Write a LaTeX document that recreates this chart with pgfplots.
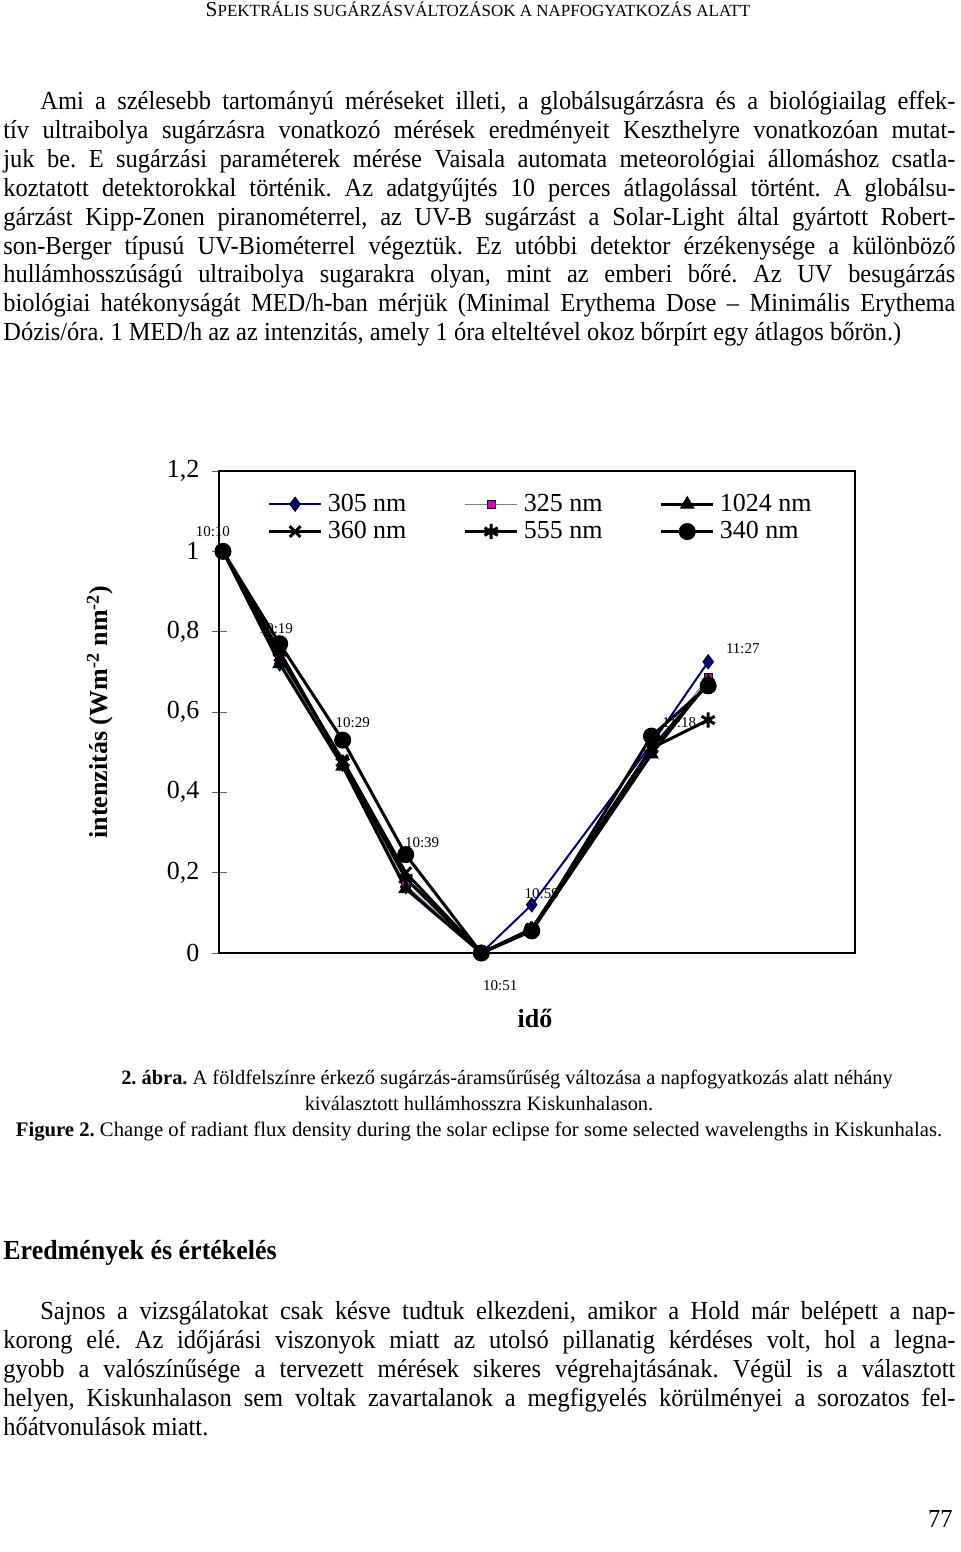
\documentclass[border=0pt]{standalone}
\usepackage{pgfplots}
\pgfplotsset{compat=1.18}
\usepackage{fontspec}
\setmainfont{Liberation Serif}
\newfontfamily\bodyfont{Liberation Serif}[FakeStretch=0.94,Ligatures=TeX]
\definecolor{navyc}{RGB}{0,0,128}
\definecolor{magc}{RGB}{220,0,200}
\newcommand\jl[4]{\node[anchor=base west,inner sep=0pt] at (#1,#2) {\hbox to #3{#4}};}
\newcommand\nl[3]{\node[anchor=base west,inner sep=0pt] at (#1,#2) {#3};}
\frenchspacing
\begin{document}
\frenchspacing
\begin{tikzpicture}
\path[use as bounding box] (0,0) rectangle (480pt,-776pt);
\begin{axis}[
  at={(109.5pt,-476.5pt)}, anchor=south west,
  scale only axis, width=318pt, height=241pt,
  xmin=-0.63, xmax=100.3, ymin=0, ymax=1.2,
  xtick=\empty,
  ytick={0,0.2,0.4,0.6,0.8,1,1.2},
  ytick pos=left,
  tick align=center,
  major tick length=7.5pt,
  tick style={line width=0.4pt, color=black!60},
  axis line style={line width=1.3pt},
  yticklabel style={font=\fontsize{13}{13}\selectfont, anchor=east, xshift=-2.5pt},
  /pgf/number format/use comma,
  /pgf/number format/assume math mode=true,
  clip=false,
  legend columns=3,
  legend style={draw=none, fill=none, at={(axis description cs:0.0755,0.957)}, anchor=north west, inner sep=0pt,
    font=\fontsize{13}{13}\selectfont, /tikz/every even column/.append style={column sep=26pt}, row sep=1.5pt,
    nodes={inner ysep=1pt, inner xsep=2.5pt}},
  legend cell align=left,
  legend image code/.code={\draw[mark repeat=2,mark phase=2] plot coordinates {(0cm,0cm) (0.46cm,0cm) (0.92cm,0cm)};},
]
\addplot[color=navyc, line width=1pt, mark=diamond*, mark size=3.5pt, mark options={fill=navyc, draw=black, line width=0.5pt, solid}]
  coordinates {(0,1.0) (9,0.72) (19,0.47) (29,0.165) (41,0.0) (49,0.12) (68,0.52) (77,0.725)};
\addlegendentry{305 nm}
\addplot[color=black!50, line width=0.5pt, mark=square*, mark size=2pt, mark options={fill=magc, draw=black, line width=0.6pt, solid}]
  coordinates {(0,1.0) (9,0.73) (19,0.47) (29,0.17) (41,0.0) (49,0.06) (68,0.51) (77,0.685)};
\addlegendentry{325 nm}
\addplot[color=black, line width=1.5pt, mark=triangle*, mark size=3.8pt, mark options={fill=black, solid, line width=0.5pt}]
  coordinates {(0,1.0) (9,0.72) (19,0.465) (29,0.16) (41,0.0) (49,0.055) (68,0.495) (77,0.675)};
\addlegendentry{1024 nm}
\addplot[color=black, line width=1.5pt, mark=x, mark size=3.8pt, mark options={solid, line width=1.5pt}]
  coordinates {(0,1.0) (9,0.74) (19,0.48) (29,0.2) (41,0.0) (49,0.06) (68,0.51) (77,0.67)};
\addlegendentry{360 nm}
\addplot[color=black, line width=1.5pt, mark=asterisk, mark size=3.8pt, mark options={solid, line width=1.5pt}]
  coordinates {(0,1.0) (9,0.75) (19,0.475) (29,0.185) (41,0.0) (49,0.06) (68,0.51) (77,0.58)};
\addlegendentry{555 nm}
\addplot[color=black, line width=1.5pt, mark=*, mark size=3.5pt, mark options={fill=black, solid}]
  coordinates {(0,1.0) (9,0.77) (19,0.53) (29,0.245) (41,0.0) (49,0.055) (68,0.54) (77,0.665)};
\addlegendentry{340 nm}
\begin{scope}[font=\fontsize{7.5}{8}\selectfont]
\node at (axis cs:-1.6,1.048) {10:10};
\node at (axis cs:8.4,0.807) {10:19};
\node at (axis cs:20.6,0.573) {10:29};
\node at (axis cs:31.6,0.274) {10:39};
\node at (axis cs:44.0,-0.08) {10:51};
\node at (axis cs:50.6,0.149) {10:59};
\node at (axis cs:72.4,0.573) {11:18};
\node at (axis cs:82.5,0.759) {11:27};
\end{scope}
\end{axis}
\begin{scope}[x=0.5pt,y=-0.5pt]
% header
\node[anchor=base,inner sep=0pt] at (478,17) {{\fontsize{10.7}{12}\selectfont S}{\fontsize{8.5}{10}\selectfont PEKTRÁLIS SUGÁRZÁSVÁLTOZÁSOK A NAPFOGYATKOZÁS ALATT}};
% paragraph 1
\begin{scope}[font=\bodyfont\fontsize{13}{15}\selectfont]
\jl{40}{110}{457.5pt}{Ami a szélesebb tartományú méréseket illeti, a globálsugárzásra és a biológiailag effek-}
\jl{3}{138.8}{476pt}{tív ultraibolya sugárzásra vonatkozó mérések eredményeit Keszthelyre vonatkozóan mutat-}
\jl{3}{167.6}{476pt}{juk be. E sugárzási paraméterek mérése Vaisala automata meteorológiai állomáshoz csatla-}
\jl{3}{196.4}{476pt}{koztatott detektorokkal történik. Az adatgyűjtés 10 perces átlagolással történt. A globálsu-}
\jl{3}{225.2}{476pt}{gárzást Kipp-Zonen piranométerrel, az UV-B sugárzást a Solar-Light által gyártott Robert-}
\jl{3}{254}{476pt}{son-Berger típusú UV-Biométerrel végeztük. Ez utóbbi detektor érzékenysége a különböző}
\jl{3}{282.8}{476pt}{hullámhosszúságú ultraibolya sugarakra olyan, mint az emberi bőré. Az UV besugárzás}
\jl{3}{311.6}{476pt}{biológiai hatékonyságát MED/h-ban mérjük (Minimal Erythema Dose – Minimális Erythema}
\nl{3}{340.4}{Dózis/óra. 1 MED/h az az intenzitás, amely 1 óra elteltével okoz bőrpírt egy átlagos bőrön.)}
% heading and paragraph 2
\nl{3}{1259}{\bfseries\fontsize{13.8}{15}\selectfont Eredmények és értékelés}
\jl{40}{1319}{457.5pt}{Sajnos a vizsgálatokat csak késve tudtuk elkezdeni, amikor a Hold már belépett a nap-}
\jl{3}{1348}{476pt}{korong elé. Az időjárási viszonyok miatt az utolsó pillanatig kérdéses volt, hol a legna-}
\jl{3}{1377}{476pt}{gyobb a valószínűsége a tervezett mérések sikeres végrehajtásának. Végül is a választott}
\jl{3}{1406}{476pt}{helyen, Kiskunhalason sem voltak zavartalanok a megfigyelés körülményei a sorozatos fel-}
\nl{3}{1435}{hőátvonulások miatt.}
\node[anchor=base east,inner sep=0pt] at (953,1527) {77};
\end{scope}
% caption
\begin{scope}[font=\fontsize{10.2}{12}\selectfont]
\node[anchor=base,inner sep=0pt] at (507,1084) {\textbf{2. ábra.} A földfelszínre érkező sugárzás-áramsűrűség változása a napfogyatkozás alatt néhány};
\node[anchor=base,inner sep=0pt] at (479,1110) {kiválasztott hullámhosszra Kiskunhalason.};
\end{scope}
\node[anchor=base,inner sep=0pt,font=\fontsize{10.35}{12}\selectfont] at (479,1136) {\textbf{Figure 2.} Change of radiant flux density during the solar eclipse for some selected wavelengths in Kiskunhalas.};
% axis labels
\node[rotate=90,font=\bfseries\fontsize{13}{13}\selectfont] at (100,712) {intenzitás (Wm\textsuperscript{-2} nm\textsuperscript{-2})};
\node[font=\bfseries\fontsize{13}{13}\selectfont] at (535,1018) {idő};
\end{scope}
\end{tikzpicture}
\end{document}
